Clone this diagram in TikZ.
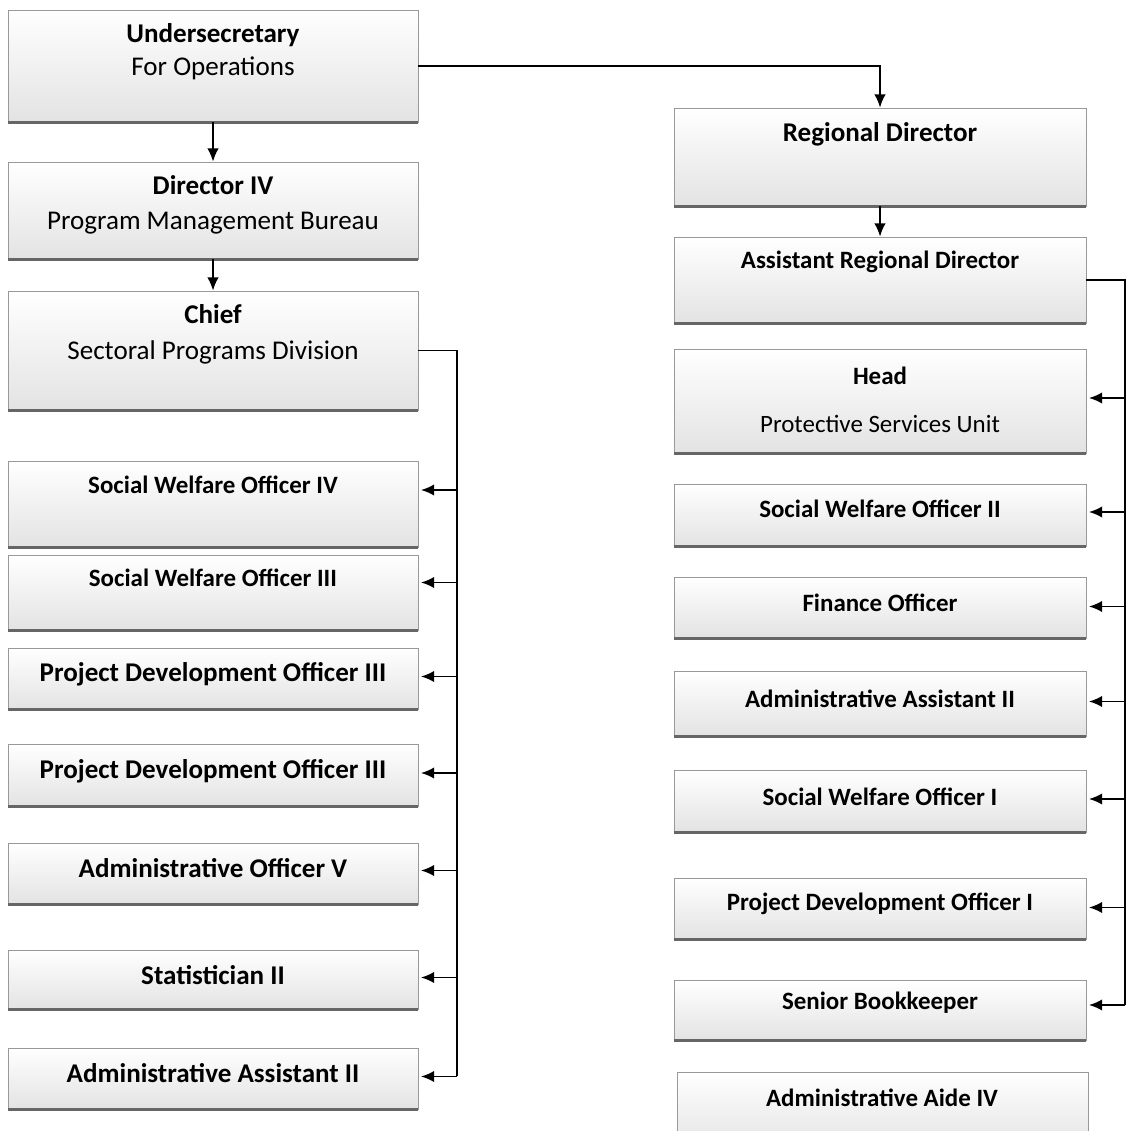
\documentclass[tikz,border=0pt]{standalone}
\usepackage{fontspec}
\setmainfont{Carlito}
\usetikzlibrary{fit,calc,arrows.meta}

\begin{document}
\begin{tikzpicture}[x=0.02cm,y=-0.02cm,
        >={Latex[length=7.5pt,width=6.5pt]},
        box/.style={draw=black!40,line width=0.4pt,top color=white,middle color=white,bottom color=black!11,inner sep=0pt},
        bottomline/.style={black!60,line width=1.4pt},
        link/.style={line width=1pt},
        big/.style={font=\fontsize{15.4}{19}\selectfont},
        small/.style={font=\fontsize{14.2}{17}\selectfont}]

                \useasboundingbox (0,0) rectangle (1136,1131);
                \clip (0,0) rectangle (1136,1131);
                \fill[white] (0,0) rectangle (1136,1131);

                % left column
                \node[box,fit={(8,10)(418,122)}] (us) {};
                \node[box,fit={(8,162)(418,259)}] (dir) {};
                \node[box,fit={(8,291)(418,410)}] (chief) {};
                \node[box,fit={(8,461)(418,547)}] (swo4) {};
                \node[box,fit={(8,555)(418,630)}] (swo3) {};
                \node[box,fit={(8,648)(418,709)}] (pdo3a) {};
                \node[box,fit={(8,744)(418,806)}] (pdo3b) {};
                \node[box,fit={(8,843)(418,904)}] (ao5) {};
                \node[box,fit={(8,950)(418,1009)}] (stat) {};
                \node[box,fit={(8,1048)(418,1109)}] (aa2l) {};

                % right column
                \node[box,fit={(674,108)(1086,206)}] (rd) {};
                \node[box,fit={(674,237)(1086,323)}] (ard) {};
                \node[box,fit={(674,349)(1086,453)}] (head) {};
                \node[box,fit={(674,484)(1086,546)}] (swo2) {};
                \node[box,fit={(674,577)(1086,638)}] (fin) {};
                \node[box,fit={(674,671)(1086,736)}] (aa2r) {};
                \node[box,fit={(674,770)(1086,832)}] (swo1) {};
                \node[box,fit={(674,878)(1086,939)}] (pdo1) {};
                \node[box,fit={(674,980)(1086,1040)}] (sbk) {};
                \node[box,fit={(677,1072)(1088,1150)}] (aide) {};

                \foreach \n in {us,dir,chief,swo4,swo3,pdo3a,pdo3b,ao5,stat,aa2l,rd,ard,head,swo2,fin,aa2r,swo1,pdo1,sbk}
                    \draw[bottomline] (\n.south west) -- (\n.south east);

                % texts
                \node[big,align=center] (usT) at (213,52) {\textbf{Undersecretary}\\For Operations};
                \node[big,align=center] (dirT) at (213,205) {\textbf{Director IV}\\[1pt]Program Management Bureau};
                \node[big,align=center] (chiefT) at (213,334) {\textbf{Chief}\\[1.5pt]Sectoral Programs Division};
                \node[small] (swo4T) at (213,485) {\textbf{Social Welfare Officer IV}};
                \node[small] (swo3T) at (213,578) {\textbf{Social Welfare Officer III}};
                \node[big] (pdo3aT) at (213,674) {\textbf{Project Development Officer III}};
                \node[big] (pdo3bT) at (213,771) {\textbf{Project Development Officer III}};
                \node[big] (ao5T) at (213,868) {\textbf{Administrative Officer V}};
                \node[big] (statT) at (213,975) {\textbf{Statistician II}};
                \node[big] (aa2lT) at (213,1073) {\textbf{Administrative Assistant II}};

                \node[big] (rdT) at (880,134) {\textbf{Regional Director}};
                \node[small] (ardT) at (880,262) {\textbf{Assistant Regional Director}};
                \node[small,align=center] (headT) at (880,400) {\textbf{Head}\\[10pt]Protective Services Unit};
                \node[small] (swo2T) at (880,509) {\textbf{Social Welfare Officer II}};
                \node[small] (finT) at (880,603) {\textbf{Finance Officer}};
                \node[small] (aa2rT) at (880,699) {\textbf{Administrative Assistant II}};
                \node[small] (swo1T) at (880,797) {\textbf{Social Welfare Officer I}};
                \node[small] (pdo1T) at (880,904) {\textbf{Project Development Officer I}};
                \node[small] (sbkT) at (880,1003) {\textbf{Senior Bookkeeper}};
                \node[small] (aideT) at (882,1098) {\textbf{Administrative Aide IV}};

                % links
                \draw[link,->] (us.south) -- (dir.north);
                \draw[link,->] (dir.south) -- (chief.north);
                \draw[link,->] (us.east) -| (rd.north);
                \draw[link,->] (rd.south) -- (ard.north);

                \coordinate (lbus) at (457,1076);
                \draw[link] (chief.east) -| (lbus);
                \foreach \n/\dy in {swo4/-14,swo3/-10,pdo3a/-2,pdo3b/-2,ao5/-3,stat/-2,aa2l/-2}{
                    \coordinate (a) at ($(\n.east)+(0,\dy)$);
                    \draw[link,->,shorten >=1.5pt] (lbus |- a) -- (a);
                }

                \coordinate (rbus) at (1125,1005);
                \draw[link] (ard.east) -| (rbus);
                \foreach \n/\dy in {head/-3,swo2/-3,fin/-1,aa2r/-2,swo1/-2,pdo1/-1,sbk/-5}{
                    \coordinate (a) at ($(\n.east)+(0,\dy)$);
                    \draw[link,->,shorten >=1.5pt] (rbus |- a) -- (a);
                }
            \end{tikzpicture}
\end{document}
